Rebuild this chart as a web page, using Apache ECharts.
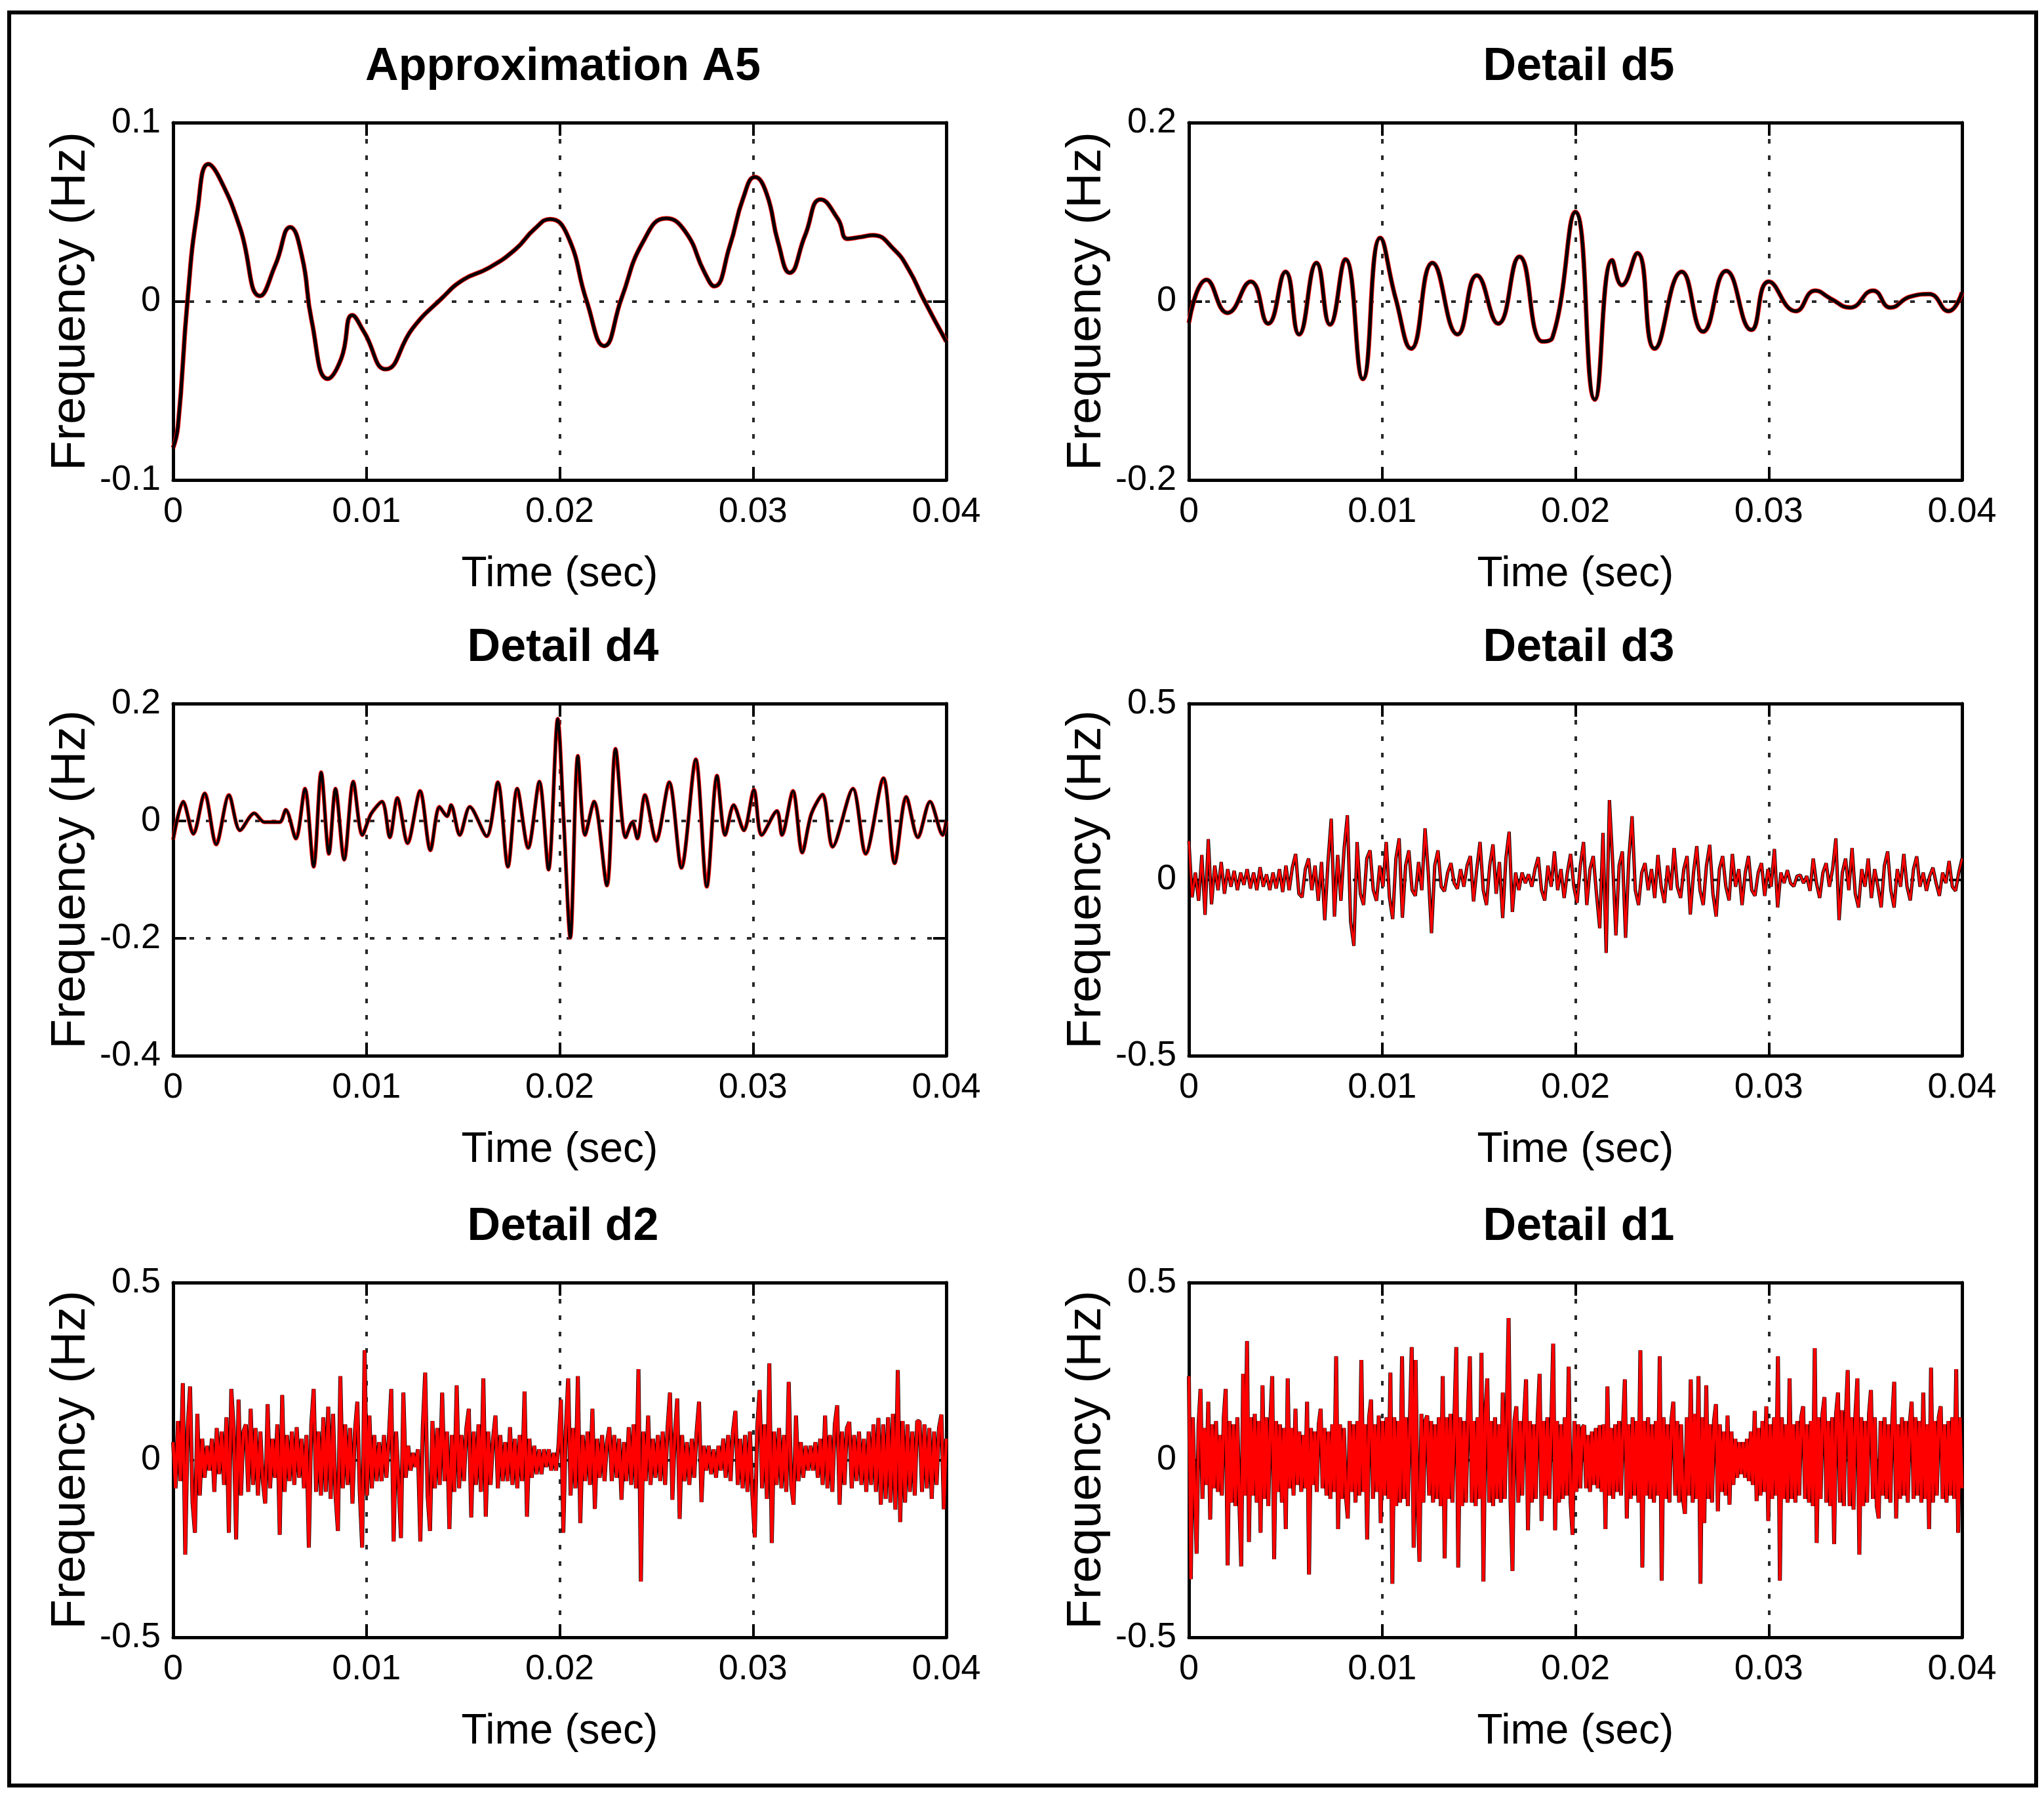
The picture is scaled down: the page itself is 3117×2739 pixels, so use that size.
<!DOCTYPE html>
<html>
<head>
<meta charset="utf-8">
<title>Wavelet decomposition A5, d5 - d1</title>
<script src="https://cdn.jsdelivr.net/npm/echarts/dist/echarts.min.js"></script>
<style>
  html, body { margin: 0; padding: 0; background: #fff; }
  #main { width: 3117px; height: 2739px; }
</style>
</head>
<body>
<div id="main"></div>
<script>
// ---- data ----
const panelTitles = ["Approximation A5", "Detail d5", "Detail d4", "Detail d3", "Detail d2", "Detail d1"];
const timeTicks = [0, 0.04, 0.01];            // min, max, step (sec)
const yTicks = [                              // min, max, step per panel
    [-0.1, 0.1, 0.1],
    [-0.2, 0.2, 0.2],
    [-0.4, 0.2, 0.2],
    [-0.5, 0.5, 0.5],
    [-0.5, 0.5, 0.5],
    [-0.5, 0.5, 0.5],
];

const a5Time = [0, 0.00025, 0.00074, 0.00125, 0.00183, 0.0024, 0.00345, 0.0045, 0.0053, 0.00606,
    0.00667, 0.00717, 0.008, 0.0087, 0.00927, 0.00988, 0.011, 0.0124, 0.0139, 0.015,
    0.0163, 0.0177, 0.0187, 0.0195, 0.0204, 0.0214, 0.0223, 0.0232, 0.0243, 0.0255,
    0.0265, 0.0275, 0.028, 0.0288, 0.0295, 0.0301, 0.0307, 0.0313, 0.0319, 0.0327,
    0.0335, 0.0344, 0.0349, 0.0356, 0.0362, 0.0373, 0.0381, 0.0388, 0.04];
const a5Value = [-0.082, -0.07, 0, 0.05, 0.0768, 0.069, 0.0415, 0.003, 0.0206, 0.0415,
    0.025, -0.011, -0.0434, -0.032, -0.0078, -0.0172, -0.038, -0.015, 0.0017, 0.012,
    0.0185, 0.029, 0.0405, 0.046, 0.037, 0, -0.025, 0.0017, 0.033, 0.0464,
    0.039, 0.016, 0.0084, 0.031, 0.058, 0.0695, 0.0604, 0.033, 0.016, 0.037,
    0.057, 0.046, 0.035, 0.036, 0.037, 0.029, 0.017, 0.0017, -0.0225];

const d5Time = [0, 0.00091, 0.002, 0.0032, 0.0041, 0.005, 0.0057, 0.0066, 0.0073, 0.0081,
    0.009, 0.0099, 0.0107, 0.0115, 0.0126, 0.0139, 0.0149, 0.016, 0.0171, 0.0183,
    0.0188, 0.02, 0.021, 0.0219, 0.0224, 0.0232, 0.0241, 0.0255, 0.0266, 0.0278,
    0.0291, 0.03, 0.0314, 0.0324, 0.0332, 0.0342, 0.0354, 0.0363, 0.0373, 0.0383,
    0.0393, 0.04];
const d5Value = [-0.024, 0.024, -0.013, 0.022, -0.025, 0.033, -0.037, 0.043, -0.026, 0.047,
    -0.087, 0.071, 0.003, -0.053, 0.043, -0.037, 0.029, -0.025, 0.05, -0.045,
    -0.041, 0.1, -0.11, 0.046, 0.018, 0.054, -0.053, 0.033, -0.034, 0.034,
    -0.032, 0.022, -0.011, 0.012, 0.003, -0.007, 0.012, -0.007, 0.005, 0.008,
    -0.011, 0.01];

const d4Time = [0, 0.00052, 0.00105, 0.00163, 0.00223, 0.00289, 0.00346, 0.0042, 0.00472, 0.00551,
    0.00583, 0.00635, 0.00682, 0.00727, 0.00766, 0.00806, 0.0084, 0.00885, 0.00932, 0.00979,
    0.01024, 0.01081, 0.01121, 0.0116, 0.01213, 0.01278, 0.01331, 0.01378, 0.01417, 0.01438,
    0.01483, 0.01535, 0.01622, 0.0168, 0.01732, 0.0178, 0.01837, 0.01895, 0.01942, 0.0199,
    0.02021, 0.02055, 0.02094, 0.02131, 0.02178, 0.02244, 0.02289, 0.02341, 0.02376, 0.02402,
    0.02441, 0.02499, 0.02567, 0.0263, 0.02704, 0.02761, 0.02814, 0.02856, 0.029, 0.02953,
    0.03005, 0.03045, 0.03124, 0.0315, 0.03207, 0.03255, 0.03302, 0.0336, 0.03412, 0.03517,
    0.03583, 0.03675, 0.03733, 0.03793, 0.03853, 0.03916, 0.03982, 0.04];
const d4Value = [-0.032, 0.033, -0.022, 0.047, -0.04, 0.044, -0.016, 0.013, -0.002, -0.002,
    0.019, -0.03, 0.055, -0.078, 0.083, -0.056, 0.055, -0.066, 0.067, -0.024,
    0.012, 0.033, -0.028, 0.039, -0.038, 0.051, -0.05, 0.024, 0.008, 0.027,
    -0.024, 0.024, -0.026, 0.066, -0.078, 0.055, -0.046, 0.067, -0.083, 0.174,
    0, -0.199, 0.111, -0.024, 0.033, -0.11, 0.123, -0.028, -0.002, -0.03,
    0.044, -0.034, 0.066, -0.08, 0.105, -0.112, 0.077, -0.024, 0.027, -0.016,
    0.053, -0.024, 0.017, -0.024, 0.051, -0.054, 0.012, 0.045, -0.044, 0.055,
    -0.056, 0.073, -0.072, 0.041, -0.028, 0.033, -0.024, 0];

// d3, d2, d1 are evenly sampled over 0 .. 0.04 s
const d3Value = [0.11, -0.05, 0.02, -0.06, 0.07, -0.10, 0.115, -0.07, 0.04, -0.03,
    0.05, -0.04, 0.03, -0.02, 0.025, -0.03, 0.02, -0.015, 0.03, -0.025,
    0.02, -0.03, 0.035, -0.02, 0.015, -0.03, 0.02, -0.025, 0.03, -0.035,
    0.04, -0.03, 0.035, 0.073, -0.04, -0.05, 0.03, 0.06, -0.03, 0.04,
    -0.06, 0.05, -0.115, 0.05, 0.173, -0.105, 0.07, -0.06, 0.09, 0.183,
    -0.12, -0.188, 0.107, -0.04, -0.072, 0.06, 0.083, -0.03, -0.06, 0.04,
    -0.02, 0.107, -0.05, -0.112, 0.06, 0.117, -0.108, 0.04, 0.083, -0.03,
    -0.046, 0.05, -0.03, 0.146, 0.02, -0.152, 0.04, 0.083, -0.02, -0.033,
    0.02, 0.047, -0.01, -0.026, 0.03, -0.02, 0.04, 0.067, -0.062, 0.03,
    0.107, -0.03, -0.072, 0.04, 0.1, -0.04, 0.05, -0.109, 0.06, 0.136,
    -0.092, 0.02, -0.03, 0.02, -0.01, 0.015, -0.02, 0.03, 0.064, -0.03,
    -0.059, 0.04, -0.02, 0.08, -0.03, 0.03, -0.052, 0.02, 0.073, -0.02,
    -0.066, 0.04, 0.107, -0.072, 0.03, 0.067, -0.04, -0.138, 0.133, -0.208,
    0.226, 0.05, -0.158, 0.04, 0.08, -0.165, 0.06, 0.18, -0.03, -0.072,
    0.02, 0.047, -0.03, 0.03, -0.052, 0.07, -0.02, -0.066, 0.04, -0.03,
    0.09, -0.02, -0.052, 0.03, 0.067, -0.099, 0.02, 0.095, -0.03, -0.072,
    0.04, 0.099, -0.04, -0.105, 0.03, 0.067, -0.02, -0.059, 0.073, -0.02,
    0.03, -0.072, 0.02, 0.067, -0.03, -0.046, 0.02, 0.047, -0.046, 0.03,
    -0.02, 0.087, -0.079, 0.02, -0.01, 0.027, -0.01, -0.019, 0.01, 0.013,
    -0.01, 0.01, -0.032, 0.06, -0.01, -0.052, 0.02, 0.047, -0.02, 0.03,
    0.117, -0.115, 0.02, 0.06, -0.03, 0.09, -0.04, -0.079, 0.03, -0.02,
    0.06, -0.052, 0.03, -0.02, -0.079, 0.04, 0.08, -0.03, -0.079, 0.03,
    -0.02, 0.073, -0.02, -0.059, 0.03, 0.066, -0.02, 0.02, -0.032, 0.01,
    0.034, -0.01, -0.046, 0.02, -0.01, 0.053, -0.02, -0.032, 0.02, 0.06];

const d2Value = [0.05, -0.08, 0.11, -0.06, 0.216, -0.267, 0.09, 0.207, -0.12, -0.205,
    0.13, -0.10, 0.06, -0.05, 0.04, -0.03, 0.06, -0.09, 0.09, -0.04,
    0.08, -0.07, 0.12, -0.205, 0.2, 0.09, -0.224, 0.17, -0.10, 0.08,
    0.10, -0.09, 0.144, -0.07, 0.09, -0.10, 0.08, -0.06, -0.123, 0.157,
    -0.08, 0.06, -0.05, 0.10, -0.211, 0.183, -0.09, 0.07, -0.06, 0.08,
    -0.07, 0.092, -0.05, 0.06, -0.08, 0.07, -0.247, 0.10, 0.2, -0.09,
    0.08, -0.10, 0.12, -0.09, 0.15, -0.11, 0.13, -0.10, -0.2, 0.236,
    -0.08, 0.10, -0.07, 0.09, -0.123, 0.08, 0.164, -0.09, -0.247, 0.309,
    -0.10, 0.125, -0.08, 0.07, -0.06, 0.05, -0.06, 0.07, -0.05, 0.06,
    0.2, -0.23, 0.08, -0.06, -0.22, 0.19, -0.05, 0.04, -0.03, 0.02,
    -0.02, 0.03, -0.23, 0.09, 0.246, -0.10, -0.2, 0.11, -0.08, 0.09,
    -0.07, 0.19, -0.06, 0.08, -0.195, 0.07, -0.09, 0.21, -0.08, 0.07,
    -0.06, 0.09, 0.144, -0.162, 0.08, -0.07, 0.10, -0.09, 0.23, -0.16,
    0.08, -0.07, 0.06, 0.125, -0.08, 0.07, -0.06, 0.05, -0.06, 0.092,
    -0.07, 0.06, -0.08, 0.07, -0.06, 0.193, -0.16, 0.06, -0.05, 0.04,
    -0.04, 0.03, -0.04, 0.03, -0.02, 0.03, -0.03, 0.02, -0.03, 0.04,
    0.17, -0.205, 0.08, 0.23, -0.10, 0.09, -0.08, 0.236, -0.178, 0.07,
    -0.06, 0.08, -0.07, 0.144, -0.138, 0.06, -0.05, 0.07, -0.06, 0.05,
    0.092, -0.06, 0.07, -0.05, 0.06, -0.112, 0.05, -0.06, 0.092, -0.07,
    0.10, -0.08, 0.256, -0.343, 0.08, -0.06, 0.125, -0.07, 0.06, -0.05,
    0.07, -0.06, 0.08, -0.07, 0.09, 0.19, -0.112, 0.07, 0.173, -0.166,
    0.07, -0.06, 0.05, -0.07, 0.06, -0.05, 0.08, 0.164, -0.119, 0.04,
    -0.03, 0.04, -0.04, 0.03, -0.05, 0.04, -0.03, 0.06, -0.05, 0.07,
    -0.06, 0.08, 0.138, -0.07, 0.06, -0.08, 0.07, -0.09, 0.08, -0.10,
    -0.218, 0.09, 0.197, -0.08, 0.10, -0.11, 0.272, -0.234, 0.08, -0.07,
    0.09, -0.08, 0.07, -0.09, 0.22, -0.07, -0.126, 0.125, -0.06, 0.05,
    -0.05, 0.04, -0.03, 0.04, -0.03, 0.05, -0.05, 0.06, -0.07, 0.125,
    -0.08, 0.07, -0.09, 0.10, 0.154, -0.126, 0.08, -0.07, 0.09, 0.107,
    -0.08, 0.07, -0.06, 0.08, -0.07, 0.06, -0.09, 0.08, -0.07, 0.10,
    -0.09, 0.118, -0.126, 0.10, -0.11, 0.12, -0.12, 0.13, -0.14, 0.253,
    -0.175, 0.11, -0.12, 0.10, -0.09, 0.08, -0.10, 0.11, 0.108, -0.09,
    0.10, -0.08, 0.09, -0.11, 0.08, -0.07, 0.09, 0.128, -0.139, 0.06];

const d1Value = [0.236, -0.336, 0.12, -0.08, -0.264, 0.10, 0.2, -0.11, 0.09, -0.07,
    0.164, -0.168, 0.10, -0.08, 0.11, -0.09, 0.07, -0.10, 0.12, 0.2,
    -0.297, 0.11, -0.12, 0.10, -0.13, 0.12, -0.11, -0.3, 0.243, -0.10,
    0.335, -0.231, 0.12, -0.10, 0.13, -0.12, 0.11, -0.205, 0.21, -0.11,
    0.12, -0.13, 0.10, 0.236, -0.28, 0.11, -0.09, 0.10, -0.12, 0.09,
    -0.195, 0.23, -0.08, 0.09, -0.10, 0.144, -0.07, 0.08, -0.09, 0.07,
    -0.08, 0.164, -0.323, 0.09, -0.07, 0.08, -0.09, 0.10, 0.144, -0.08,
    0.09, -0.10, 0.08, -0.11, 0.10, -0.09, 0.292, -0.195, 0.10, -0.11,
    0.09, -0.10, -0.165, 0.11, -0.09, 0.10, -0.12, 0.11, -0.10, 0.282,
    -0.09, 0.10, -0.224, 0.12, 0.17, -0.11, 0.10, -0.09, 0.125, -0.178,
    0.11, -0.10, 0.12, -0.11, 0.246, -0.349, 0.12, -0.13, 0.11, -0.12,
    0.292, -0.11, 0.12, -0.13, 0.10, 0.318, -0.247, 0.282, -0.12, -0.287,
    0.13, -0.12, 0.11, 0.125, -0.10, 0.11, -0.12, 0.10, -0.11, 0.12,
    -0.13, 0.236, -0.277, 0.12, -0.11, 0.13, -0.12, 0.11, 0.318, -0.303,
    0.12, -0.13, 0.11, -0.12, 0.13, 0.292, -0.12, 0.11, -0.13, 0.12,
    -0.11, 0.302, -0.343, 0.13, 0.23, -0.12, 0.11, -0.13, 0.12, -0.11,
    0.10, -0.12, 0.19, -0.11, 0.12, 0.4, -0.12, -0.313, 0.11, 0.151,
    -0.12, 0.11, -0.10, 0.12, 0.227, -0.198, 0.11, -0.12, 0.10, -0.11,
    0.12, 0.243, -0.172, 0.11, -0.10, 0.12, -0.11, 0.10, 0.328, -0.198,
    0.11, -0.12, 0.10, -0.11, 0.12, -0.10, 0.263, -0.12, -0.211, 0.11,
    -0.09, 0.10, -0.08, 0.09, 0.098, -0.08, 0.07, -0.09, 0.08, -0.07,
    0.09, -0.08, 0.098, -0.09, 0.10, -0.195, 0.207, -0.10, 0.09, -0.11,
    0.10, -0.09, 0.11, -0.10, 0.09, 0.227, -0.165, 0.10, -0.11, 0.12,
    -0.10, 0.11, -0.12, 0.309, -0.303, 0.11, -0.10, 0.12, -0.11, 0.10,
    -0.12, 0.11, -0.10, 0.292, -0.34, 0.12, -0.11, 0.10, -0.12, 0.11,
    0.164, -0.10, 0.11, -0.12, 0.10, -0.11, -0.152, 0.12, -0.10, 0.227,
    -0.12, 0.13, -0.11, 0.236, -0.349, 0.12, -0.178, 0.21, -0.11, 0.10,
    -0.12, 0.11, 0.157, -0.145, 0.10, -0.09, 0.08, -0.10, 0.125, -0.126,
    0.08, -0.07, 0.06, -0.05, 0.05, -0.04, 0.05, -0.05, 0.06, -0.06,
    0.08, -0.07, 0.138, -0.116, 0.09, -0.10, 0.11, -0.09, 0.151, -0.172,
    0.10, -0.11, 0.12, -0.10, 0.292, -0.34, 0.12, -0.11, 0.10, -0.12,
    0.23, -0.11, 0.10, -0.12, 0.11, -0.10, 0.12, 0.151, -0.11, 0.10,
    -0.12, 0.11, -0.13, 0.315, -0.234, 0.12, -0.11, 0.13, 0.177, -0.12,
    0.11, -0.13, 0.12, -0.237, 0.13, 0.19, -0.12, 0.14, -0.13, 0.12,
    0.253, -0.13, 0.12, -0.14, 0.13, 0.23, -0.267, 0.12, -0.13, 0.11,
    -0.12, 0.13, 0.197, -0.11, 0.12, -0.13, -0.165, 0.11, -0.10, 0.12,
    -0.11, 0.10, -0.12, 0.11, 0.22, -0.165, 0.10, -0.11, 0.12, -0.10,
    0.11, -0.12, 0.10, 0.164, -0.11, 0.12, -0.10, 0.11, -0.12, 0.19,
    -0.11, 0.10, -0.195, 0.26, -0.12, 0.11, -0.10, 0.12, 0.151, -0.11,
    0.10, -0.12, 0.11, -0.10, 0.12, -0.11, 0.256, -0.205, 0.12, -0.08];

// ---- build [t, v] pairs ----
function pairs(time, value) {
    return value.map(function (v, k) { return [time[k], v]; });
}
function evenPairs(value) {
    const step = (timeTicks[1] - timeTicks[0]) / (value.length - 1);
    return value.map(function (v, k) { return [timeTicks[0] + k * step, v]; });
}
const panelData = [
    pairs(a5Time, a5Value),
    pairs(d5Time, d5Value),
    pairs(d4Time, d4Value),
    evenPairs(d3Value),
    evenPairs(d2Value),
    evenPairs(d1Value),
];

// ---- layout / style ----
const gridLeft = [264, 1813];
const gridTop = [187, 1073, 1956];
const gridHeight = [545, 537, 541];
const gridWidth = 1179;
const panelSmooth = [0.5, 0.5, 0.3, false, false, false];
const redOnTop = [false, false, false, true, true, true];
// [under, over] line widths
const lineWidths = [[7, 5], [7, 5], [6, 4], [5, 3], [6, 4.5], [6, 4.5]];

const narrow = "'Liberation Sans Narrow', 'Arial Narrow', 'Liberation Sans', sans-serif";
const plain = "'Liberation Sans', Arial, sans-serif";
const dotted = { color: "#2a2a2a", width: 4, type: [7, 18] };
const frameLine = { color: "#000", width: 5 };
const tickStyle = { show: true, inside: true, length: 20, lineStyle: { color: "#000", width: 4 } };

let grids = [], xAxes = [], yAxes = [], titles = [], series = [];

for (let i = 0; i < 6; i++) {
    const col = i % 2, row = Math.floor(i / 2);
    grids.push({ left: gridLeft[col], top: gridTop[row], width: gridWidth, height: gridHeight[row] });

    titles.push({
        text: panelTitles[i],
        left: gridLeft[col] + gridWidth / 2,
        top: gridTop[row] - 124,
        textAlign: "center",
        textStyle: { fontFamily: narrow, fontWeight: "bold", fontSize: 70, color: "#000" },
    });

    // bottom / left axes carry labels and the dotted grid
    xAxes.push({
        gridIndex: i, type: "value", position: "bottom",
        min: timeTicks[0], max: timeTicks[1], interval: timeTicks[2],
        name: "Time (sec)", nameLocation: "middle", nameGap: 112,
        nameTextStyle: { fontFamily: narrow, fontSize: 64, color: "#000" },
        axisLine: { show: true, onZero: false, lineStyle: frameLine },
        axisTick: tickStyle,
        axisLabel: { margin: 22, fontFamily: narrow, fontSize: 54, color: "#000" },
        splitLine: { show: true, lineStyle: dotted },
    });
    yAxes.push({
        gridIndex: i, type: "value", position: "left",
        min: yTicks[i][0], max: yTicks[i][1], interval: yTicks[i][2],
        name: "Frequency (Hz)", nameLocation: "middle", nameGap: 118,
        nameTextStyle: { fontFamily: plain, fontSize: 75, color: "#000" },
        axisLine: { show: true, onZero: false, lineStyle: frameLine },
        axisTick: tickStyle,
        axisLabel: { margin: 19, fontFamily: narrow, fontSize: 54, color: "#000" },
        splitLine: { show: true, lineStyle: dotted },
    });
}
// top / right axes close the box and repeat the ticks
for (let i = 0; i < 6; i++) {
    xAxes.push({
        gridIndex: i, type: "value", position: "top",
        min: timeTicks[0], max: timeTicks[1], interval: timeTicks[2],
        axisLine: { show: true, onZero: false, lineStyle: frameLine },
        axisTick: tickStyle, axisLabel: { show: false }, splitLine: { show: false },
    });
    yAxes.push({
        gridIndex: i, type: "value", position: "right",
        min: yTicks[i][0], max: yTicks[i][1], interval: yTicks[i][2],
        axisLine: { show: true, onZero: false, lineStyle: frameLine },
        axisTick: tickStyle, axisLabel: { show: false }, splitLine: { show: false },
    });
}

function lineSeries(i, color, width) {
    return {
        type: "line", xAxisIndex: i, yAxisIndex: i, data: panelData[i],
        showSymbol: false, symbol: "none", smooth: panelSmooth[i],
        lineStyle: { color: color, width: width }, silent: true,
    };
}
for (let i = 0; i < 6; i++) {
    const w = lineWidths[i];
    if (redOnTop[i]) {
        series.push(lineSeries(i, "#000000", w[0]));
        series.push(lineSeries(i, "#ff0000", w[1]));
    } else {
        series.push(lineSeries(i, "#ff0000", w[0]));
        series.push(lineSeries(i, "#000000", w[1]));
    }
}

let chart = echarts.init(document.getElementById("main"));
chart.setOption({
    backgroundColor: "#fff",
    animation: false,
    title: titles,
    grid: grids,
    xAxis: xAxes,
    yAxis: yAxes,
    series: series,
    graphic: [{
        type: "rect",
        shape: { x: 14, y: 19, width: 3091, height: 2704 },
        style: { fill: null, stroke: "#000", lineWidth: 6 },
        silent: true,
    }],
});

window.onresize = function () {
    chart.resize();
};
</script>
</body>
</html>
